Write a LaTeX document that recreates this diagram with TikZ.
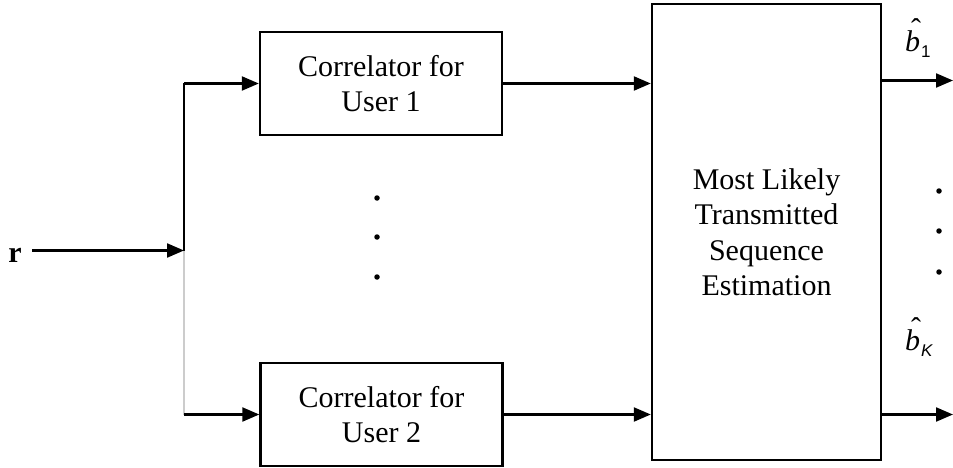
\documentclass[tikz,border=0pt]{standalone}
\usepackage{fontspec}
\setmainfont{Liberation Serif}
\setsansfont{Liberation Sans}
\usetikzlibrary{arrows.meta}
% italic b with a circumflex set above it, followed by a small sans subscript
\newcommand{\estlabel}[1]{\rlap{\hspace{6pt}\raisebox{12pt}{\char"02C6}}\textit{b}\kern1pt\raisebox{-6pt}{\fontsize{17}{17}\selectfont\sffamily #1}}
\begin{document}
\begin{tikzpicture}[x=1pt,y=-1pt,
  line width=2.2pt,
  arr/.style={-{Triangle[length=17pt,width=14pt]}},
  block/.style={draw,line width=2.4pt,inner sep=0pt,align=center,
    font=\fontsize{30}{35.5}\selectfont},
  lbl/.style={font=\fontsize{30}{35.5}\selectfont},
  dot/.style={circle,fill=black,inner sep=0pt,minimum size=5.5pt}]
\useasboundingbox (0,0) rectangle (953,468);

% blocks
\node[block,minimum width=242pt,minimum height=103pt] (c1) at (381,83.5) {Correlator for\\User 1};
\node[block,minimum width=242pt,minimum height=103pt] (c2) at (381.5,414.5) {Correlator for\\User 2};
\node[block,minimum width=229pt,minimum height=456pt] (est) at (766.5,232) {Most Likely\\Transmitted\\Sequence\\Estimation};

% input and splitting point
\node[lbl,anchor=base] (r) at (15,262) {\textbf{r}};
\coordinate (rs) at (32,250.5);
\coordinate (sp) at (184,250.5);
\coordinate (s1) at (184,83.5);
\coordinate (s2) at (184,414.5);
\draw[arr] (rs) -- (sp);
\draw (sp) -- (s1);
\draw[arr] (s1) -- (c1.west);
\draw[gray!40] (sp) -- (s2);
\draw[arr] (s2) -- (c2.west);

% correlator outputs
\draw[arr] (c1.east) -- (c1.east -| est.west);
\draw[arr] (c2.east) -- (c2.east -| est.west);

% decision outputs
\coordinate (o1a) at (est.east |- 0,80.5);
\coordinate (o1b) at (953,80.5);
\coordinate (o2a) at (est.east |- 0,414.5);
\coordinate (o2b) at (953,414.5);
\draw[arr] (o1a) -- (o1b);
\draw[arr] (o2a) -- (o2b);
\node[lbl,anchor=base west,inner sep=0pt] (b1) at (904,52) {\estlabel{1}};
\node[lbl,anchor=base west,inner sep=0pt] (bk) at (904,350) {\estlabel{\itshape K}};

% ellipsis dots
\node[dot] (d1) at (377,198) {};
\node[dot] (d2) at (377,237) {};
\node[dot] (d3) at (377,277) {};
\node[dot] (e1) at (939,191) {};
\node[dot] (e2) at (939,231) {};
\node[dot] (e3) at (939,272) {};
\end{tikzpicture}
\end{document}
